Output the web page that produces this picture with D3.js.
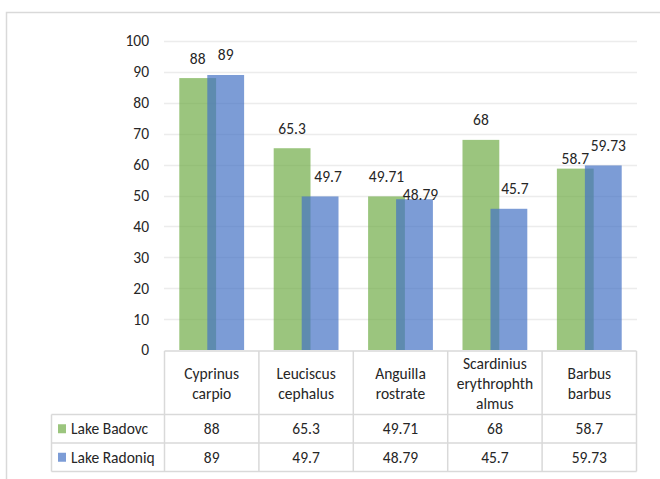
<!DOCTYPE html>
<html>
<head>
<meta charset="utf-8">
<script src="https://cdn.jsdelivr.net/npm/d3@7/dist/d3.min.js"></script>
<style>
  html, body { margin: 0; padding: 0; background: #fff; }
  svg { display: block; font-family: Carlito, Lato, "Open Sans", sans-serif; }
</style>
</head>
<body>
<svg id="chart" width="660" height="479"></svg>
<script>
// Fish species and their values in the two lakes
const categories = ["Cyprinus carpio", "Leuciscus cephalus", "Anguilla rostrate",
                    "Scardinius erythrophthalmus", "Barbus barbus"];
const categoryLines = [["Cyprinus", "carpio"], ["Leuciscus", "cephalus"], ["Anguilla", "rostrate"],
                       ["Scardinius", "erythrophth", "almus"], ["Barbus", "barbus"]];
const seriesNames = ["Lake Badovc", "Lake Radoniq"];
const badovc = [88, 65.3, 49.71, 68, 58.7];
const radoniq = [89, 49.7, 48.79, 45.7, 59.73];
const yTicks = [0, 10, 20, 30, 40, 50, 60, 70, 80, 90, 100];

// Presentation settings
const colors = ["#70AD47", "#4472C4"];
const barOpacity = 0.7;
const fontSize = 15.5;
const textColor = "#262626";
const series = [badovc, radoniq];
// Hand placement of a few data labels (dx, dy) relative to the default spot
const labelNudge = [
  [[0, 0], [0, 0], [0, 0], [0, 0], [0, 10]],
  [[0, 0], [8, 0], [6, 15], [6, 0], [5, 0]]
];

const svg = d3.select("#chart");

// Outer frame
svg.append("path")
  .attr("d", "M6.5,485 V12.5 H670")
  .attr("fill", "none").attr("stroke", "#d9d9d9").attr("stroke-width", 1.5);

const x = d3.scaleBand().domain(categories).range([164.5, 636.5]).paddingInner(0).paddingOuter(0);
const y = d3.scaleLinear().domain([0, 100]).range([350, 41]);

// Horizontal gridlines
svg.append("g").selectAll("line").data(yTicks.filter(t => t > 0)).join("line")
  .attr("x1", 164).attr("x2", 637)
  .attr("y1", d => Math.round(y(d)) + 0.5).attr("y2", d => Math.round(y(d)) + 0.5)
  .attr("stroke", "#ececec").attr("stroke-width", 1.5);

// Y axis labels (no axis line)
const yAxis = d3.axisLeft(y).tickValues(yTicks).tickSize(0).tickPadding(0);
const gy = svg.append("g").attr("transform", "translate(149,0)").call(yAxis);
gy.select(".domain").remove();
gy.selectAll("text").attr("font-size", fontSize).attr("fill", textColor)
  .attr("font-family", "Carlito, Lato, 'Open Sans', sans-serif");

// Bars: two overlapping series per category
const barW = x.bandwidth() * 0.39;
const offsets = [-14, 14];
series.forEach((vals, si) => {
  svg.append("g").selectAll("rect").data(vals).join("rect")
    .attr("x", (d, i) => x(categories[i]) + x.bandwidth() / 2 + offsets[si] - barW / 2)
    .attr("width", barW)
    .attr("y", d => y(d))
    .attr("height", d => y(0) - y(d))
    .attr("fill", colors[si]).attr("fill-opacity", barOpacity);
});

// Data labels
series.forEach((vals, si) => {
  svg.append("g").selectAll("text").data(vals).join("text")
    .attr("x", (d, i) => x(categories[i]) + x.bandwidth() / 2 + offsets[si] + labelNudge[si][i][0])
    .attr("y", (d, i) => y(d) - 20 + labelNudge[si][i][1])
    .attr("dy", "0.35em")
    .attr("text-anchor", "middle")
    .attr("font-size", fontSize).attr("fill", textColor)
    .text(d => d);
});

// Data table below the plot
const tableStroke = "#d9d9d9";
const rowTops = [351, 414.5, 443, 471.5];
const legendLeft = 51.5;
const colEdges = categories.map(c => x(c)).concat([x(categories[categories.length - 1]) + x.bandwidth()]);
const tg = svg.append("g");

// horizontal lines
tg.append("line").attr("x1", colEdges[0]).attr("x2", colEdges[colEdges.length - 1])
  .attr("y1", rowTops[0]).attr("y2", rowTops[0]);
rowTops.slice(1).forEach(yy => {
  tg.append("line").attr("x1", legendLeft).attr("x2", colEdges[colEdges.length - 1])
    .attr("y1", yy).attr("y2", yy);
});
// vertical lines
colEdges.forEach((xx, i) => {
  tg.append("line").attr("x1", xx).attr("x2", xx).attr("y1", rowTops[0]).attr("y2", rowTops[3]);
});
tg.append("line").attr("x1", legendLeft).attr("x2", legendLeft).attr("y1", rowTops[1]).attr("y2", rowTops[3]);
tg.selectAll("line").attr("stroke", tableStroke).attr("stroke-width", 1.5);

// header: wrapped category names
const headerMid = (rowTops[0] + rowTops[1]) / 2 + 0.5;
categories.forEach((c, i) => {
  const lines = categoryLines[i];
  const t = tg.append("text")
    .attr("text-anchor", "middle").attr("font-size", fontSize).attr("fill", textColor);
  lines.forEach((ln, k) => {
    t.append("tspan")
      .attr("x", x(c) + x.bandwidth() / 2)
      .attr("y", headerMid + (k - (lines.length - 1) / 2) * 20)
      .attr("dy", "0.35em")
      .text(ln);
  });
});

// value rows with legend keys
series.forEach((vals, si) => {
  const mid = (rowTops[si + 1] + rowTops[si + 2]) / 2;
  tg.append("rect").attr("x", 58).attr("y", mid - 4.5).attr("width", 8).attr("height", 9)
    .attr("fill", colors[si]).attr("fill-opacity", barOpacity);
  tg.append("text").attr("x", 71).attr("y", mid).attr("dy", "0.35em")
    .attr("font-size", fontSize).attr("fill", textColor).text(seriesNames[si]);
  vals.forEach((v, i) => {
    tg.append("text")
      .attr("x", x(categories[i]) + x.bandwidth() / 2).attr("y", mid).attr("dy", "0.35em")
      .attr("text-anchor", "middle").attr("font-size", fontSize).attr("fill", textColor)
      .text(v);
  });
});
</script>
</body>
</html>
